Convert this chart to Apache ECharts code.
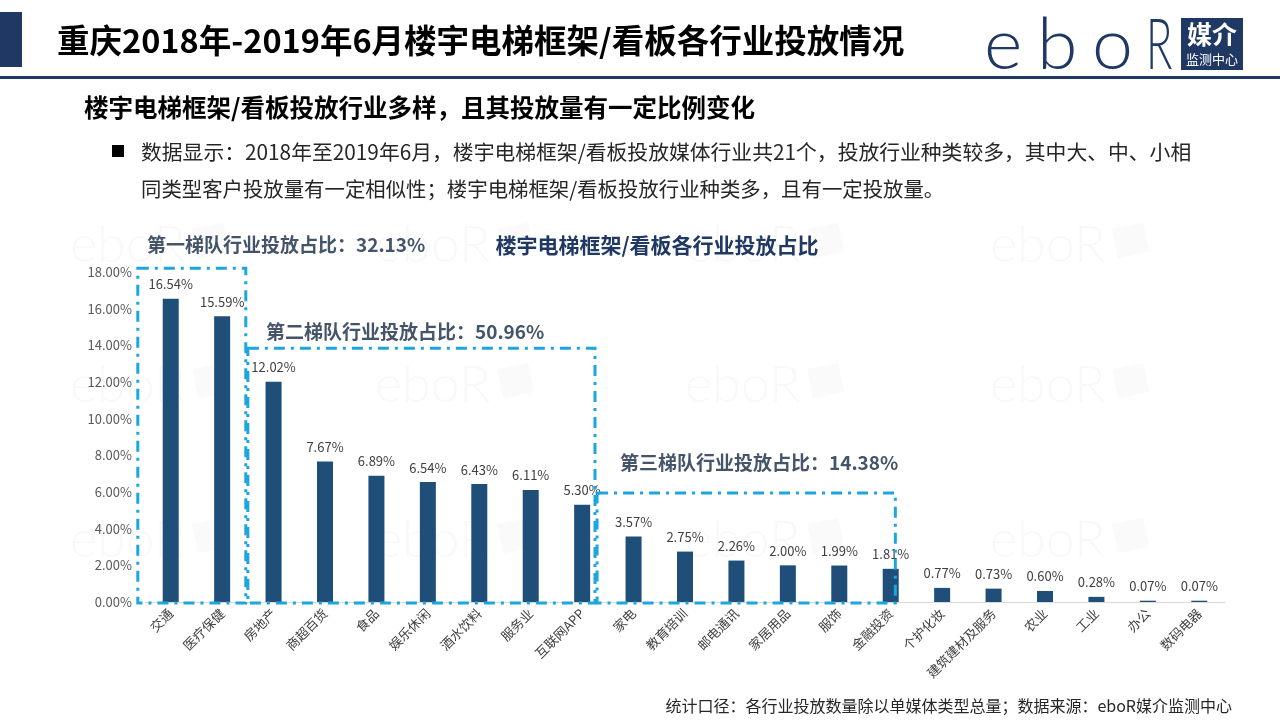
<!DOCTYPE html>
<html><head><meta charset="utf-8">
<script src="https://cdn.jsdelivr.net/npm/echarts@6/dist/echarts.min.js"></script>
<style>html,body{margin:0;padding:0;background:#fff}#c{width:1280px;height:720px}</style>
</head><body><div id="c"></div>
<script>
// ---- data ----
const categories = ['交通','医疗保健','房地产','商超百货','食品','娱乐休闲','酒水饮料','服务业','互联网APP','家电','教育培训','邮电通讯','家居用品','服饰','金融投资','个护化妆','建筑建材及服务','农业','工业','办公','数码电器'];
const shares = [16.54,15.59,12.02,7.67,6.89,6.54,6.43,6.11,5.30,3.57,2.75,2.26,2.00,1.99,1.81,0.77,0.73,0.60,0.28,0.07,0.07];
const tierLabels = ['第一梯队行业投放占比：32.13%','第二梯队行业投放占比：50.96%','第三梯队行业投放占比：14.38%'];
const tierFirst = [0, 2, 9];
const tierLast = [1, 8, 14];
const tierTopValue = [18.2, 13.84, 5.94];
const yMin = 0, yMax = 18, yStep = 2;

const titleText = '重庆2018年-2019年6月楼宇电梯框架/看板各行业投放情况';
const subTitle = '楼宇电梯框架/看板投放行业多样，且其投放量有一定比例变化';
const bodyLine1 = '数据显示：2018年至2019年6月，楼宇电梯框架/看板投放媒体行业共21个，投放行业种类较多，其中大、中、小相';
const bodyLine2 = '同类型客户投放量有一定相似性；楼宇电梯框架/看板投放行业种类多，且有一定投放量。';
const chartTitle = '楼宇电梯框架/看板各行业投放占比';
const footer = '统计口径：各行业投放数量除以单媒体类型总量；数据来源：eboR媒介监测中心';
const logoLetters = ['e', 'b', 'o', 'R'];

const FONT = '"Noto Sans CJK SC","Microsoft YaHei",sans-serif';
const NAVY = '#1f3864';
const chart = echarts.init(document.getElementById('c'));

chart.setOption({
  animation: false,
  textStyle: { fontFamily: FONT },
  grid: { left: 145, right: 55, top: 272, bottom: 118, containLabel: false },
  xAxis: {
    type: 'category', data: categories,
    axisLine: { lineStyle: { color: '#d9d9d9', width: 1 } },
    axisTick: { show: false },
    axisLabel: { rotate: 45, margin: 9, fontSize: 13, color: '#404040', fontFamily: FONT, interval: 0 }
  },
  yAxis: {
    type: 'value', min: yMin, max: yMax, interval: yStep,
    axisLine: { show: false }, axisTick: { show: false },
    splitLine: { show: false },
    axisLabel: { fontSize: 13, color: '#595959', margin: 13, fontFamily: FONT,
      formatter: v => v.toFixed(2) + '%' }
  },
  series: [{
    type: 'bar', data: shares, barWidth: 16, z: 2,
    itemStyle: { color: '#1f4e79' },
    label: { show: true, position: 'top', distance: 8, fontSize: 13, color: '#404040', fontFamily: FONT,
      formatter: p => p.value.toFixed(2) + '%' }
  }]
});

function px(i) { return chart.convertToPixel({ xAxisIndex: 0 }, i); }
function py(v) { return chart.convertToPixel({ yAxisIndex: 0 }, v); }

const g = [];
// faint watermarks
const wmX = [70, 375, 685, 990], wmY = [245, 385, 540];
wmY.forEach(y => wmX.forEach(x => {
  g.push({ type: 'text', x: x, y: y, z: 0, silent: true,
    style: { text: 'eboR', font: '300 52px Lato, sans-serif', fill: 'rgba(0,0,0,0.028)', textVerticalAlign: 'middle' } });
  g.push({ type: 'rect', x: x + 122, y: y - 16, rotation: 0.2, z: 0, silent: true,
    shape: { width: 32, height: 30 }, style: { fill: 'rgba(0,0,0,0.018)' } });
}));
// header
g.push({ type: 'rect', shape: { x: 0, y: 12, width: 22, height: 55 }, style: { fill: NAVY } });
g.push({ type: 'rect', shape: { x: 0, y: 76, width: 1280, height: 3 }, style: { fill: NAVY } });
g.push({ type: 'text', x: 57, y: 41, style: { text: titleText, font: 'bold 32.5px ' + FONT, fill: '#000', textVerticalAlign: 'middle' } });
// logo
const logoX = [984, 1037, 1092, 1146];
const logoScale = [1.05, 1.05, 1.05, 0.62];
logoLetters.forEach((ch, i) => {
  g.push({ type: 'text', x: logoX[i], y: 46, scaleX: logoScale[i],
    style: { text: ch, font: '300 70px Lato, sans-serif', fill: NAVY, textVerticalAlign: 'middle' } });
});
g.push({ type: 'rect', shape: { x: 1181, y: 18, width: 62, height: 52 }, style: { fill: NAVY } });
g.push({ type: 'text', x: 1212, y: 34, style: { text: '媒介', font: 'bold 25px ' + FONT, fill: '#fff', textAlign: 'center', textVerticalAlign: 'middle' } });
g.push({ type: 'text', x: 1212, y: 59, style: { text: '监测中心', font: '13px ' + FONT, fill: '#fff', textAlign: 'center', textVerticalAlign: 'middle' } });
// subtitle & body
g.push({ type: 'text', x: 84, y: 108, style: { text: subTitle, font: 'bold 24.5px ' + FONT, fill: '#000', textVerticalAlign: 'middle' } });
g.push({ type: 'rect', shape: { x: 112, y: 145, width: 12, height: 12 }, style: { fill: '#000' } });
g.push({ type: 'text', x: 141, y: 152, style: { text: bodyLine1, font: '20.8px ' + FONT, fill: '#262626', textVerticalAlign: 'middle' } });
g.push({ type: 'text', x: 141, y: 189, style: { text: bodyLine2, font: '20.4px ' + FONT, fill: '#262626', textVerticalAlign: 'middle' } });
// chart title
g.push({ type: 'text', x: 657, y: 245, style: { text: chartTitle, font: 'bold 21px ' + FONT, fill: NAVY, textAlign: 'center', textVerticalAlign: 'middle' } });
// footer
g.push({ type: 'text', x: 1232, y: 706, style: { text: footer, font: '16px ' + FONT, fill: '#262626', textAlign: 'right', textVerticalAlign: 'middle' } });

// tier boxes
const band = px(1) - px(0);
const boxPad = [[-0.64, 0.46], [-0.5, 0.25], [-0.71, 0.09]];
const labelPos = [[147, 245], [266, 332], [620, 463]];
const y0 = py(0);
for (let t = 0; t < 3; t++) {
  const l = px(tierFirst[t]) + boxPad[t][0] * band;
  const r = px(tierLast[t]) + boxPad[t][1] * band;
  const top = py(tierTopValue[t]);
  g.push({ type: 'rect', z: 10, shape: { x: l, y: top, width: r - l, height: y0 + 1 - top },
    style: { fill: 'none', stroke: '#1ca6e0', lineWidth: 3, lineDash: [11, 6, 3, 6] } });
  g.push({ type: 'text', x: labelPos[t][0], y: labelPos[t][1], z: 10,
    style: { text: tierLabels[t], font: 'bold 19px ' + FONT, fill: '#44546a', textVerticalAlign: 'middle' } });
}
chart.setOption({ graphic: { elements: g } });
</script></body></html>
